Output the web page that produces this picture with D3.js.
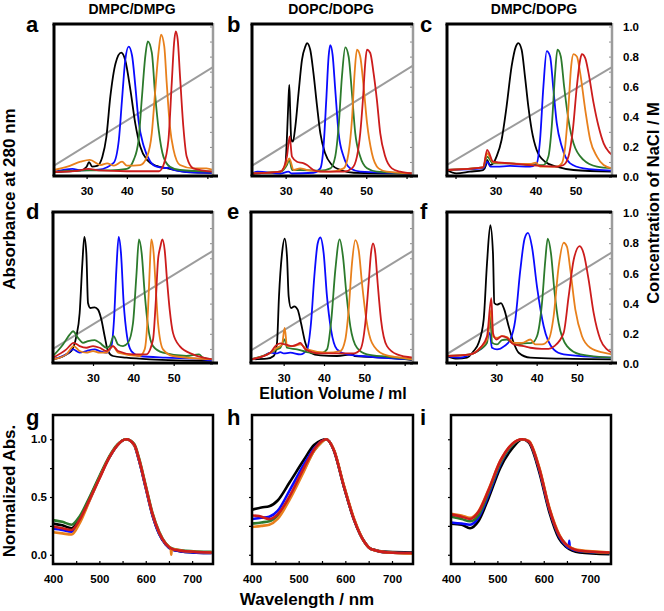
<!DOCTYPE html>
<html>
<head>
<meta charset="utf-8">
<script src="https://cdn.jsdelivr.net/npm/d3@7"></script>
<style>
  body { margin: 0; background: #fff; }
  text { font-family: "Liberation Sans", Arial, sans-serif; }
</style>
</head>
<body>
<div id="chart"></div>
<script>
// Series order in every panel: black, blue, green, orange, red
const seriesColors = ["#000000", "#0a0aff", "#2c7a2c", "#e8801c", "#cc1c1c"];

const columnTitles = ["DMPC/DMPG", "DOPC/DOPG", "DMPC/DOPG"];
const panelLetters = ["a", "b", "c", "d", "e", "f", "g", "h", "i"];

// Elution profiles: [elution volume (ml), absorbance at 280 nm (relative to frame)]
const chromA = [
  [[21.9,0.02],[28.5,0.03],[30,0.055],[30.6,0.085],[31.4,0.055],[32.6,0.06],[33.9,0.12],[34.9,0.25],[35.9,0.52],[37.2,0.74],[38.6,0.81],[39.6,0.76],[40.9,0.56],[42.1,0.34],[43.3,0.19],[45,0.10],[47.4,0.06],[49.9,0.045],[54.9,0.02],[61.4,0.015]],
  [[21.9,0.02],[26.5,0.04],[28.5,0.03],[33,0.035],[36.7,0.08],[38,0.23],[38.8,0.5],[39.6,0.76],[40.45,0.85],[41.3,0.79],[42.1,0.59],[42.9,0.36],[44.2,0.19],[45.8,0.09],[47.4,0.055],[49.9,0.045],[50.3,0.05],[51,0.04],[54.9,0.02],[61.4,0.015]],
  [[21.9,0.02],[30,0.03],[36,0.03],[40,0.04],[41.7,0.10],[42.9,0.23],[43.7,0.50],[44.6,0.79],[45.2,0.885],[46.2,0.81],[47,0.54],[47.9,0.30],[49.1,0.12],[50.7,0.055],[53.2,0.033],[61.4,0.022]],
  [[21.9,0.033],[25.2,0.055],[28.5,0.088],[30.8,0.10],[33.5,0.066],[35.1,0.077],[36.8,0.062],[38.8,0.088],[40.0,0.062],[43.3,0.066],[45,0.12],[46.2,0.277],[47,0.542],[47.9,0.82],[48.5,0.93],[49.3,0.85],[49.9,0.61],[50.7,0.32],[51.6,0.166],[53.2,0.066],[56.5,0.044],[59.8,0.044],[61.4,0.033]],
  [[21.9,0.02],[27,0.025],[30.5,0.04],[33,0.03],[40,0.025],[48,0.025],[49.1,0.066],[50.33,0.232],[51.15,0.608],[51.73,0.874],[52.14,0.951],[52.63,0.896],[53.21,0.653],[54.03,0.321],[54.86,0.122],[56.5,0.044],[61.4,0.022]]
];
const chromB = [
  [[21.65,0.01],[28.7,0.022],[29.9,0.06],[30.4,0.30],[30.7,0.50],[30.91,0.597],[31.1,0.45],[31.4,0.232],[31.8,0.221],[32.4,0.321],[33.2,0.542],[34.05,0.763],[34.9,0.852],[35.3,0.874],[36.1,0.83],[36.9,0.675],[37.8,0.454],[38.6,0.277],[39.8,0.144],[41.5,0.066],[43.6,0.033],[46.9,0.015],[61.6,0.01]],
  [[21.65,0.01],[23,0.022],[28.7,0.01],[30.7,0.022],[31.5,0.01],[36.9,0.015],[38.6,0.044],[39.4,0.188],[40.08,0.498],[40.66,0.785],[41.07,0.86],[41.65,0.796],[42.31,0.564],[43.14,0.277],[44.38,0.122],[46,0.044],[48.5,0.022],[61.6,0.01]],
  [[21.65,0.01],[28.7,0.022],[30.3,0.066],[30.9,0.10],[31.6,0.033],[33.6,0.033],[38.6,0.029],[41.1,0.044],[42.3,0.122],[43.14,0.321],[43.97,0.652],[44.79,0.845],[45.62,0.785],[46.45,0.542],[47.27,0.277],[48.5,0.122],[50.2,0.044],[52.6,0.022],[61.6,0.01]],
  [[21.65,0.01],[28.7,0.022],[30.3,0.08],[30.91,0.11],[31.98,0.033],[33.6,0.044],[35.3,0.033],[41.1,0.022],[44.4,0.044],[45.6,0.144],[46.45,0.365],[47.11,0.675],[47.69,0.83],[48.5,0.785],[49.34,0.586],[50.2,0.343],[51.4,0.144],[53.06,0.044],[55.1,0.022],[61.6,0.01]],
  [[21.65,0.01],[28.7,0.022],[30.3,0.12],[30.99,0.255],[31.57,0.122],[32.8,0.088],[34.5,0.077],[35.3,0.066],[36.9,0.033],[38.6,0.022],[44.4,0.022],[46.45,0.044],[47.69,0.122],[48.51,0.277],[49.17,0.498],[49.75,0.741],[50.17,0.83],[50.99,0.808],[51.82,0.675],[52.64,0.498],[53.47,0.277],[54.71,0.122],[56.36,0.044],[58.4,0.022],[61.6,0.01]]
];
const chromC = [
  [[17.87,0.033],[20.2,0.011],[23.6,0.022],[26.9,0.033],[27.74,0.077],[27.91,0.10],[28.58,0.066],[29.41,0.077],[30.25,0.122],[31.51,0.232],[32.76,0.453],[34.02,0.719],[35.1,0.852],[35.69,0.874],[36.53,0.83],[37.36,0.653],[38.2,0.454],[39.04,0.299],[40.29,0.166],[42.38,0.088],[45.3,0.055],[49.5,0.033],[59.12,0.022]],
  [[17.87,0.033],[26.9,0.044],[27.91,0.088],[28.74,0.055],[30.25,0.055],[33.6,0.06],[38.62,0.055],[40.29,0.077],[41.13,0.232],[41.97,0.586],[42.8,0.82],[43.64,0.785],[44.48,0.564],[45.31,0.343],[46.57,0.188],[48.66,0.077],[52,0.044],[59.12,0.029]],
  [[17.87,0.033],[26.9,0.05],[27.91,0.122],[29.41,0.077],[33.6,0.077],[38.62,0.066],[41.97,0.066],[43.22,0.122],[44.06,0.321],[44.9,0.675],[45.48,0.83],[46.32,0.785],[47.15,0.586],[48.24,0.365],[49.5,0.21],[52,0.10],[55.36,0.055],[59.12,0.044]],
  [[17.87,0.033],[26.9,0.05],[27.91,0.144],[29.41,0.084],[33.6,0.077],[38.62,0.073],[40.13,0.082],[41.13,0.055],[45.31,0.055],[46.57,0.077],[47.41,0.188],[48.24,0.454],[48.91,0.719],[49.5,0.80],[50.33,0.785],[51.17,0.675],[52.43,0.432],[53.68,0.232],[55.36,0.122],[57.03,0.066],[59.12,0.044]],
  [[17.87,0.033],[26.9,0.05],[27.91,0.166],[29.41,0.088],[33.6,0.077],[38.62,0.066],[45.31,0.055],[46.99,0.066],[48.24,0.122],[49.33,0.299],[50.33,0.586],[51.17,0.763],[51.59,0.80],[52.43,0.774],[53.26,0.675],[54.52,0.476],[55.77,0.321],[57.03,0.21],[58.28,0.155],[59.12,0.133]]
];
const chromD = [
  [[20.08,0.018],[21.74,0.029],[23.39,0.051],[24.63,0.073],[25.87,0.172],[26.69,0.327],[27.36,0.658],[27.85,0.834],[28.35,0.724],[28.76,0.393],[29.34,0.36],[30.41,0.364],[31.24,0.349],[32.07,0.283],[32.89,0.172],[33.72,0.073],[34.96,0.04],[38.26,0.029],[44.05,0.018],[59.75,0.007]],
  [[20.08,0.018],[23.39,0.051],[25.04,0.084],[26.69,0.062],[28.35,0.073],[30.41,0.084],[31.65,0.073],[33.31,0.062],[34.55,0.106],[35.21,0.283],[35.79,0.614],[36.36,0.834],[36.94,0.724],[37.6,0.393],[38.43,0.172],[39.5,0.073],[41.57,0.04],[48,0.029],[55.62,0.022],[59.75,0.007]],
  [[20.08,0.04],[22.56,0.117],[24.21,0.183],[25.04,0.205],[26.28,0.161],[27.52,0.128],[28.76,0.139],[30.41,0.146],[31.65,0.128],[33.31,0.095],[34.13,0.106],[35.12,0.172],[36.2,0.117],[37.44,0.106],[38.68,0.128],[39.92,0.26],[40.74,0.57],[41.4,0.817],[42.07,0.724],[42.81,0.459],[43.64,0.238],[44.88,0.106],[47.36,0.062],[53.14,0.04],[56.28,0.051],[57.27,0.029],[59.75,0.018]],
  [[20.08,0.018],[23.39,0.051],[25.21,0.106],[26.69,0.073],[28.35,0.062],[30,0.073],[31.65,0.062],[33.31,0.062],[34.96,0.106],[36.2,0.062],[41.57,0.04],[42.81,0.084],[43.64,0.349],[44.05,0.614],[44.46,0.817],[45.04,0.724],[45.54,0.503],[46.12,0.26],[47.36,0.084],[49.83,0.04],[59.75,0.018]],
  [[20.08,0.029],[23.39,0.084],[25.21,0.128],[26.69,0.106],[28.35,0.095],[30,0.106],[31.65,0.095],[33.31,0.073],[34.96,0.106],[36.2,0.073],[39.92,0.051],[43.22,0.051],[44.88,0.15],[45.54,0.393],[46.12,0.68],[46.69,0.768],[47.19,0.817],[47.77,0.746],[48.35,0.547],[49.01,0.349],[49.83,0.194],[51.49,0.106],[54.79,0.051],[59.75,0.018]]
];
const chromE = [
  [[21.9,0.018],[25.87,0.022],[27.52,0.04],[28.35,0.128],[28.84,0.437],[29.59,0.724],[30.25,0.823],[30.83,0.702],[31.24,0.437],[31.82,0.36],[32.64,0.371],[33.47,0.349],[34.3,0.26],[35.37,0.128],[36.61,0.062],[39.09,0.044],[43.22,0.04],[47.19,0.051],[47.6,0.04],[55.62,0.029],[62.07,0.013]],
  [[21.9,0.018],[25.04,0.04],[26.69,0.062],[28.35,0.057],[29.17,0.066],[30,0.057],[31.65,0.062],[34.13,0.051],[35.79,0.084],[36.78,0.26],[37.6,0.57],[38.43,0.79],[39.09,0.83],[39.92,0.724],[40.74,0.437],[41.74,0.216],[43.22,0.084],[45.7,0.051],[51.49,0.035],[62.07,0.018]],
  [[21.9,0.018],[25.87,0.051],[28.35,0.084],[29.17,0.095],[30.25,0.15],[30.83,0.095],[33.31,0.084],[35.79,0.066],[39.09,0.057],[40.74,0.084],[41.82,0.283],[42.81,0.614],[43.88,0.817],[44.71,0.702],[45.54,0.459],[46.53,0.238],[48.18,0.095],[50.66,0.051],[55.62,0.035],[62.07,0.018]],
  [[21.9,0.018],[26.69,0.062],[28.35,0.095],[29.59,0.117],[30.25,0.227],[30.83,0.106],[32.48,0.106],[34.13,0.117],[35.79,0.084],[40.74,0.062],[44.05,0.073],[45.29,0.15],[46.12,0.349],[46.94,0.658],[47.77,0.812],[48.6,0.746],[49.42,0.525],[50.5,0.283],[51.9,0.128],[54.79,0.051],[58.93,0.029],[62.07,0.018]],
  [[21.9,0.018],[26.69,0.062],[27.93,0.106],[29.17,0.124],[30.41,0.117],[32.07,0.106],[33.31,0.117],[34.13,0.128],[35.37,0.084],[39.09,0.057],[47.36,0.057],[49.01,0.084],[50.25,0.26],[51.07,0.525],[51.65,0.724],[52.15,0.79],[52.73,0.724],[53.31,0.525],[54.13,0.283],[55.62,0.106],[58.1,0.051],[62.07,0.029]]
];
const chromF = [
  [[17.77,0.04],[20.25,0.022],[22.73,0.029],[24.38,0.073],[25.62,0.128],[26.86,0.283],[27.69,0.658],[28.51,0.912],[29.17,0.724],[29.5,0.393],[30.17,0.382],[31.16,0.393],[31.98,0.349],[33.06,0.238],[34.3,0.128],[35.54,0.062],[38.43,0.029],[46.69,0.022],[58.68,0.018]],
  [[17.77,0.04],[21.07,0.029],[23.55,0.051],[26.03,0.084],[27.27,0.117],[28.35,0.194],[28.93,0.095],[30.17,0.084],[31.98,0.106],[33.47,0.15],[34.71,0.283],[35.95,0.614],[37.02,0.823],[37.85,0.861],[38.84,0.768],[40.08,0.503],[41.74,0.238],[44.21,0.084],[46.69,0.051],[58.68,0.029]],
  [[17.77,0.04],[23.55,0.051],[26.03,0.084],[27.69,0.128],[28.51,0.305],[28.93,0.128],[30.17,0.117],[31.4,0.146],[32.64,0.15],[33.88,0.128],[35.12,0.117],[36.78,0.124],[38.84,0.128],[40.08,0.172],[41.32,0.393],[42.15,0.68],[42.73,0.823],[43.55,0.724],[44.38,0.481],[45.45,0.26],[47.52,0.106],[50.83,0.051],[58.68,0.029]],
  [[17.77,0.04],[23.55,0.051],[26.03,0.095],[27.69,0.15],[28.76,0.349],[29.17,0.172],[30.17,0.161],[31.4,0.172],[32.64,0.166],[34.3,0.128],[36.36,0.128],[38.43,0.15],[39.67,0.117],[41.32,0.117],[42.98,0.15],[44.21,0.305],[45.45,0.636],[46.69,0.795],[47.52,0.768],[48.35,0.614],[49.59,0.349],[51.24,0.172],[53.31,0.095],[56.61,0.062],[58.68,0.051]],
  [[17.77,0.04],[23.55,0.051],[26.03,0.095],[27.69,0.172],[28.76,0.426],[29.17,0.194],[30,0.15],[31.4,0.172],[32.64,0.161],[34.3,0.117],[36.78,0.106],[38.43,0.095],[41.32,0.088],[42.98,0.088],[44.38,0.106],[46.69,0.194],[47.93,0.437],[49.17,0.68],[50.66,0.773],[51.65,0.724],[52.89,0.547],[54.13,0.327],[55.79,0.15],[57.44,0.084],[58.68,0.062]]
];

// NaCl gradient (grey line): [elution volume (ml), NaCl (M)]
const gradA = [[21.9,0.075],[61.4,0.73]];
const gradB = [[21.65,0.075],[61.6,0.74]];
const gradC = [[17.87,0.08],[59.12,0.73]];
const gradD = [[20.08,0.10],[59.75,0.75]];
const gradE = [[21.9,0.09],[62.07,0.75]];
const gradF = [[17.77,0.066],[58.68,0.74]];

// Normalized spectra: [wavelength (nm), normalized absorbance]
const specG = [
  [[400,0.27],[420,0.255],[440,0.23],[457,0.31],[479,0.49],[500,0.67],[521,0.84],[539,0.95],[558,1.0],[575,0.95],[586,0.81],[600,0.58],[614,0.35],[629,0.18],[643,0.09],[657,0.045],[686,0.025],[742,0.015]],
  [[400,0.225],[420,0.215],[440,0.20],[457,0.29],[479,0.475],[500,0.665],[521,0.84],[539,0.95],[558,1.0],[575,0.95],[586,0.81],[600,0.58],[614,0.35],[629,0.18],[643,0.09],[657,0.045],[686,0.025],[742,0.015]],
  [[400,0.30],[420,0.285],[440,0.26],[457,0.33],[479,0.50],[500,0.68],[521,0.85],[539,0.955],[558,1.0],[575,0.96],[586,0.83],[600,0.60],[614,0.37],[629,0.20],[643,0.10],[657,0.055],[686,0.035],[742,0.025]],
  [[400,0.195],[420,0.185],[440,0.175],[457,0.27],[479,0.47],[500,0.66],[521,0.84],[539,0.95],[558,1.0],[575,0.95],[586,0.82],[600,0.59],[614,0.36],[629,0.19],[643,0.095],[654,0.05],[655,0.0],[656,0.05],[686,0.03],[742,0.02]],
  [[400,0.245],[420,0.23],[440,0.215],[457,0.30],[479,0.48],[500,0.66],[521,0.84],[539,0.95],[558,1.0],[575,0.955],[586,0.82],[600,0.59],[614,0.36],[629,0.19],[643,0.095],[657,0.05],[686,0.03],[742,0.02]]
];
const specH = [
  [[400,0.39],[420,0.41],[437,0.42],[455,0.47],[481,0.63],[511,0.82],[533,0.95],[548,0.99],[559,1.0],[575,0.91],[597,0.59],[619,0.30],[641,0.11],[655,0.05],[692,0.025],[743,0.02]],
  [[400,0.31],[420,0.32],[437,0.33],[455,0.38],[481,0.56],[511,0.78],[533,0.92],[548,0.98],[559,1.0],[575,0.91],[597,0.59],[619,0.30],[641,0.11],[655,0.05],[692,0.02],[743,0.015]],
  [[400,0.27],[420,0.28],[437,0.29],[455,0.34],[481,0.50],[511,0.73],[533,0.90],[548,0.97],[559,1.0],[575,0.91],[597,0.59],[619,0.30],[641,0.11],[655,0.05],[692,0.02],[743,0.015]],
  [[400,0.24],[420,0.25],[437,0.26],[455,0.31],[481,0.48],[511,0.72],[533,0.90],[548,0.97],[559,1.0],[575,0.915],[597,0.60],[619,0.31],[641,0.11],[655,0.05],[692,0.02],[743,0.01]],
  [[400,0.34],[415,0.335],[437,0.31],[455,0.35],[481,0.51],[511,0.75],[533,0.91],[548,0.98],[559,1.0],[575,0.91],[597,0.59],[619,0.30],[641,0.11],[655,0.05],[692,0.02],[743,0.015]]
];
const specI = [
  [[400,0.27],[423,0.26],[441,0.23],[459,0.29],[481,0.49],[506,0.75],[532,0.92],[554,1.0],[568,0.97],[590,0.72],[612,0.37],[633,0.14],[648,0.07],[677,0.02],[742,0.005]],
  [[400,0.28],[423,0.27],[441,0.26],[459,0.32],[481,0.52],[506,0.78],[532,0.95],[554,1.0],[568,0.98],[590,0.74],[612,0.39],[633,0.16],[648,0.08],[654,0.06],[655,0.12],[656,0.06],[677,0.03],[742,0.015]],
  [[400,0.33],[423,0.31],[441,0.29],[459,0.34],[481,0.54],[506,0.79],[532,0.95],[554,1.0],[568,0.98],[590,0.75],[612,0.40],[633,0.17],[648,0.09],[677,0.035],[742,0.015]],
  [[400,0.355],[423,0.34],[441,0.32],[459,0.375],[481,0.565],[506,0.81],[532,0.96],[554,1.0],[568,0.985],[590,0.76],[612,0.41],[633,0.18],[648,0.09],[677,0.04],[742,0.02]],
  [[400,0.35],[423,0.33],[441,0.31],[459,0.37],[481,0.56],[506,0.81],[532,0.96],[554,1.0],[568,0.98],[590,0.75],[612,0.40],[633,0.17],[648,0.09],[677,0.035],[742,0.02]]
];

const volTicks = [20, 30, 40, 50, 60];
const volLabels = [30, 40, 50];
const naclTicks = d3.range(0, 11).map(i => i / 10);
const naclLabels = [0, 0.2, 0.4, 0.6, 0.8, 1.0];
const wlTicks = [400, 450, 500, 550, 600, 650, 700];
const wlLabels = [400, 500, 600, 700];
const absTicks = [0, 0.25, 0.5, 0.75, 1.0];
const absLabels = [0, 0.5, 1.0];

// ---------- layout ----------
const W = 664, H = 611;
const svg = d3.select("#chart").append("svg")
  .attr("width", W).attr("height", H);

const colsRow1 = [[54, 213], [252, 413], [447, 612]];
const colsRow2 = [[53, 213], [251, 413], [447, 612]];
const colsRow3 = [[53, 213], [252, 413], [451, 611]];
const rowBoxes = [
  { top: 24, bottom: 176, cTop: 26.5, cBottom: 177, tickPad: 8, cols: colsRow1 },
  { top: 212, bottom: 363, cTop: 213, cBottom: 364, tickPad: 7.5, cols: colsRow2 }
];

const chromPanels = [
  { data: chromA, grad: gradA, dom: [21.9, 61.4], col: 0, row: 0 },
  { data: chromB, grad: gradB, dom: [21.65, 61.6], col: 1, row: 0 },
  { data: chromC, grad: gradC, dom: [17.87, 59.12], col: 2, row: 0, rightLabels: true },
  { data: chromD, grad: gradD, dom: [20.08, 59.75], col: 0, row: 1 },
  { data: chromE, grad: gradE, dom: [21.9, 62.07], col: 1, row: 1 },
  { data: chromF, grad: gradF, dom: [17.77, 58.68], col: 2, row: 1, rightLabels: true }
];

const defs = svg.append("defs");
let clipId = 0;
function addClip(x0, y0, x1, y1) {
  const id = "clip" + (clipId++);
  defs.append("clipPath").attr("id", id)
    .append("rect").attr("x", x0).attr("y", y0)
    .attr("width", x1 - x0).attr("height", y1 - y0);
  return "url(#" + id + ")";
}

function drawChrom(p) {
  const box = rowBoxes[p.row];
  const [left, right] = box.cols[p.col];
  const x = d3.scaleLinear().domain(p.dom).range([left, right]);
  const y = d3.scaleLinear().domain([0, 1]).range([box.bottom - 1, box.top]);
  const conc = d3.scaleLinear().domain([0, 1]).range([box.cBottom, box.cTop]);
  const g = svg.append("g");
  const plot = g.append("g").attr("clip-path", addClip(left, box.top, right, box.bottom));

  // salt gradient
  plot.append("path")
    .datum(p.grad)
    .attr("fill", "none")
    .attr("stroke", "#9c9c9c")
    .attr("stroke-width", 2)
    .attr("d", d3.line().x(d => x(d[0])).y(d => conc(d[1])));

  const line = d3.line()
    .x(d => x(d[0]))
    .y(d => y(d[1]))
    .curve(d3.curveMonotoneX);

  p.data.forEach((s, i) => {
    plot.append("path")
      .datum(s)
      .attr("fill", "none")
      .attr("stroke", seriesColors[i])
      .attr("stroke-width", 1.8)
      .attr("stroke-linejoin", "round")
      .attr("d", line);
  });

  // right NaCl axis (grey)
  const rAxis = g.append("g")
    .attr("transform", `translate(${right},0)`)
    .call(d3.axisRight(conc)
      .tickValues(naclTicks)
      .tickSize(-3)
      .tickSizeOuter(0)
      .tickPadding(11)
      .tickFormat(d => p.rightLabels && naclLabels.some(v => Math.abs(v - d) < 1e-6) ? d3.format(".1f")(d) : ""));
  rAxis.select(".domain").remove();
  rAxis.selectAll(".tick line").attr("stroke", "#8a8a8a").attr("stroke-width", 1);
  rAxis.selectAll("text").attr("font-size", 11.5).attr("font-weight", "bold").attr("fill", "#000");
  g.append("line")
    .attr("x1", right).attr("x2", right)
    .attr("y1", box.top - 1).attr("y2", box.bottom)
    .attr("stroke", "#9c9c9c").attr("stroke-width", 2.5);

  // bottom elution axis
  const bAxis = g.append("g")
    .attr("transform", `translate(0,${box.bottom})`)
    .call(d3.axisBottom(x)
      .tickValues(volTicks.filter(v => v >= p.dom[0] && v <= p.dom[1]))
      .tickSize(3)
      .tickSizeOuter(0)
      .tickPadding(box.tickPad)
      .tickFormat(d => volLabels.includes(d) ? d : ""));
  bAxis.select(".domain").remove();
  bAxis.selectAll(".tick line").attr("stroke", "#000").attr("stroke-width", 1.2);
  bAxis.selectAll("text").attr("font-size", 11.5).attr("font-weight", "bold").attr("fill", "#000");

  // frame: top, left, bottom in black
  g.append("line").attr("x1", left - 1.5).attr("x2", right).attr("y1", box.top).attr("y2", box.top)
    .attr("stroke", "#000").attr("stroke-width", 3);
  g.append("line").attr("x1", left).attr("x2", left).attr("y1", box.top).attr("y2", box.bottom)
    .attr("stroke", "#000").attr("stroke-width", 3);
  g.append("line").attr("x1", left - 1.5).attr("x2", right + 5).attr("y1", box.bottom).attr("y2", box.bottom)
    .attr("stroke", "#000").attr("stroke-width", 3);
}

chromPanels.forEach(drawChrom);

// ---------- spectra ----------
const specPanels = [
  { data: specG, col: 0, leftLabels: true },
  { data: specH, col: 1 },
  { data: specI, col: 2 }
];
const specBox = { top: 415, bottom: 564 };
const wlDomain = [400, 745];
const absDomain = [-0.08, 1.21];

function drawSpec(p) {
  const [left, right] = colsRow3[p.col];
  const x = d3.scaleLinear().domain(wlDomain).range([left, right]);
  const y = d3.scaleLinear().domain(absDomain).range([specBox.bottom, specBox.top]);
  const g = svg.append("g");
  const plot = g.append("g").attr("clip-path", addClip(left, specBox.top, right, specBox.bottom));

  const line = d3.line()
    .x(d => x(d[0]))
    .y(d => y(d[1]))
    .curve(d3.curveMonotoneX);

  p.data.forEach((s, i) => {
    plot.append("path")
      .datum(s)
      .attr("fill", "none")
      .attr("stroke", seriesColors[i])
      .attr("stroke-width", 2.6)
      .attr("stroke-linejoin", "round")
      .attr("d", line);
  });

  const lAxis = g.append("g")
    .attr("transform", `translate(${left},0)`)
    .call(d3.axisLeft(y)
      .tickValues(absTicks)
      .tickSize(3)
      .tickSizeOuter(0)
      .tickPadding(3)
      .tickFormat(d => p.leftLabels && absLabels.includes(d) ? d3.format(".1f")(d) : ""));
  lAxis.select(".domain").remove();
  lAxis.selectAll(".tick line").attr("stroke", "#000").attr("stroke-width", 1.2);
  lAxis.selectAll("text").attr("font-size", 11.5).attr("font-weight", "bold").attr("fill", "#000");

  const bAxis = g.append("g")
    .attr("transform", `translate(0,${specBox.bottom})`)
    .call(d3.axisBottom(x)
      .tickValues(wlTicks)
      .tickSize(-3)
      .tickSizeOuter(0)
      .tickPadding(11)
      .tickFormat(d => wlLabels.includes(d) ? d : ""));
  bAxis.select(".domain").remove();
  bAxis.selectAll(".tick line").attr("stroke", "#000").attr("stroke-width", 1.2);
  bAxis.selectAll("text").attr("font-size", 11.5).attr("font-weight", "bold").attr("fill", "#000");

  g.append("rect")
    .attr("x", left).attr("y", specBox.top)
    .attr("width", right - left).attr("height", specBox.bottom - specBox.top)
    .attr("fill", "none").attr("stroke", "#000").attr("stroke-width", 2.5);
}

specPanels.forEach(drawSpec);

// ---------- titles and labels ----------
const titleX = [132, 331, 534];
columnTitles.forEach((t, i) => {
  svg.append("text")
    .attr("x", titleX[i]).attr("y", 13.5)
    .attr("text-anchor", "middle")
    .attr("font-size", 14).attr("font-weight", "bold")
    .text(t);
});

const letterX = [26, 227, 420];
const letterY = [32, 219, 425];
panelLetters.forEach((l, i) => {
  svg.append("text")
    .attr("x", letterX[i % 3]).attr("y", letterY[Math.floor(i / 3)])
    .attr("font-size", 22).attr("font-weight", "bold")
    .text(l);
});

svg.append("text")
  .attr("transform", "translate(15,199) rotate(-90)")
  .attr("text-anchor", "middle")
  .attr("font-size", 17).attr("font-weight", "bold")
  .text("Absorbance at 280 nm");

svg.append("text")
  .attr("transform", "translate(659,203) rotate(-90)")
  .attr("text-anchor", "middle")
  .attr("font-size", 16.5).attr("font-weight", "bold")
  .text("Concentration of NaCl / M");

svg.append("text")
  .attr("x", 333).attr("y", 399)
  .attr("text-anchor", "middle")
  .attr("font-size", 16).attr("font-weight", "bold")
  .text("Elution Volume / ml");

svg.append("text")
  .attr("transform", "translate(15,491) rotate(-90)")
  .attr("text-anchor", "middle")
  .attr("font-size", 17).attr("font-weight", "bold")
  .text("Normalized Abs.");

svg.append("text")
  .attr("x", 307).attr("y", 605)
  .attr("text-anchor", "middle")
  .attr("font-size", 17).attr("font-weight", "bold")
  .text("Wavelength / nm");
</script>
</body>
</html>
